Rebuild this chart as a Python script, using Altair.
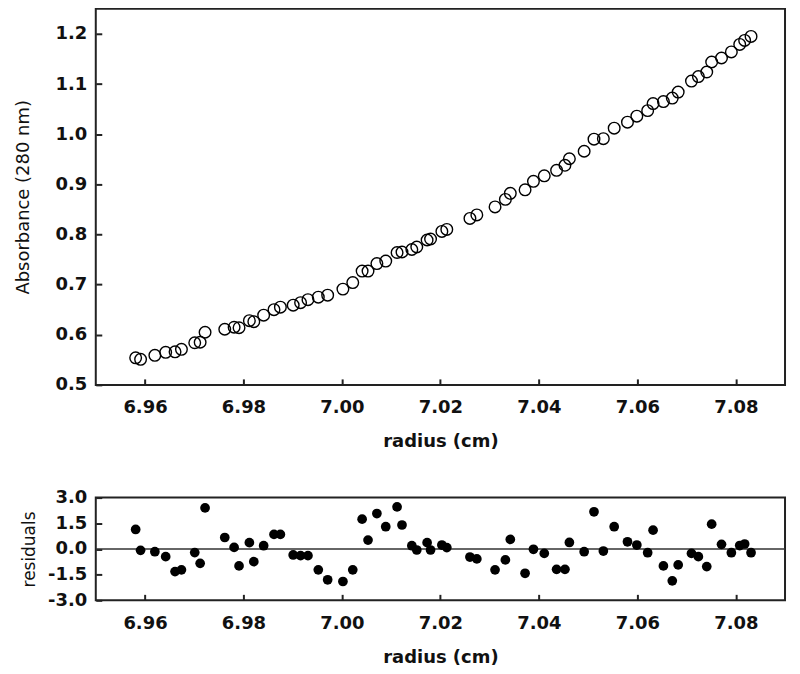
import altair as alt
import pandas as pd

# ---- data ----
radius = [6.9581, 6.9591, 6.9620, 6.9642, 6.9661, 6.9674, 6.9701, 6.9712, 6.9722, 6.9762,
          6.9781, 6.9791, 6.9812, 6.9821, 6.9841, 6.9862, 6.9875, 6.9901, 6.9916, 6.9931,
          6.9952, 6.9971, 7.0002, 7.0022, 7.0041, 7.0053, 7.0071, 7.0089, 7.0112, 7.0122,
          7.0142, 7.0152, 7.0173, 7.0180, 7.0203, 7.0213, 7.0260, 7.0274, 7.0311, 7.0332,
          7.0342, 7.0372, 7.0389, 7.0411, 7.0436, 7.0453, 7.0462, 7.0492, 7.0512, 7.0531,
          7.0553, 7.0580, 7.0599, 7.0621, 7.0632, 7.0653, 7.0671, 7.0683, 7.0710, 7.0724,
          7.0741, 7.0751, 7.0771, 7.0791, 7.0808, 7.0818, 7.0831]

absorbance = [0.554, 0.551, 0.559, 0.565, 0.566, 0.571, 0.584, 0.585, 0.605, 0.611,
              0.615, 0.614, 0.628, 0.626, 0.639, 0.650, 0.655, 0.659, 0.664, 0.670,
              0.675, 0.679, 0.691, 0.704, 0.727, 0.727, 0.742, 0.747, 0.764, 0.765,
              0.770, 0.775, 0.789, 0.791, 0.806, 0.810, 0.832, 0.839, 0.855, 0.870,
              0.882, 0.889, 0.906, 0.917, 0.928, 0.938, 0.951, 0.966, 0.990, 0.991,
              1.012, 1.024, 1.036, 1.047, 1.061, 1.065, 1.072, 1.084, 1.106, 1.115,
              1.124, 1.144, 1.152, 1.164, 1.179, 1.187, 1.195]

residuals = [1.14, -0.08, -0.16, -0.45, -1.32, -1.22, -0.21, -0.84, 2.40, 0.67,
             0.09, -0.99, 0.37, -0.74, 0.19, 0.85, 0.85, -0.35, -0.39, -0.39,
             -1.22, -1.80, -1.90, -1.22, 1.74, 0.52, 2.07, 1.30, 2.46, 1.40,
             0.19, -0.06, 0.37, -0.06, 0.23, 0.08, -0.47, -0.58, -1.22, -0.64,
             0.56, -1.42, -0.02, -0.26, -1.19, -1.19, 0.38, -0.16, 2.17, -0.12,
             1.30, 0.42, 0.23, -0.22, 1.10, -0.99, -1.86, -0.93, -0.26, -0.45,
             -1.03, 1.45, 0.27, -0.22, 0.20, 0.29, -0.22]

x_ticks = [6.96, 6.98, 7.00, 7.02, 7.04, 7.06, 7.08]
abs_ticks = [0.5, 0.6, 0.7, 0.8, 0.9, 1.0, 1.1, 1.2]
res_ticks = [-3.0, -1.5, 0.0, 1.5, 3.0]
x_domain = [6.95, 7.09]
abs_domain = [0.5, 1.25]
res_domain = [-3.0, 3.0]

df = pd.DataFrame({"radius": radius, "absorbance": absorbance, "residual": residuals})
zero = pd.DataFrame({"residual": [0.0]})

W = 691
H1 = 377
H2 = 103
TICK = 6

LABEL_FONT = "DejaVu Sans"
# inward ticks: the axis is moved inside the frame by -TICK and its ticks point back out to it
lab = dict(labelFont=LABEL_FONT, labelFontWeight="bold", labelFontSize=18, labelColor="#111",
           domain=False, ticks=True, tickSize=TICK, tickWidth=2, tickColor="#222",
           offset=-TICK, grid=False)
neg_fmt = "datum.value < 0 ? '-' + format(-datum.value, '.1f') : format(datum.value, '.1f')"

x_axis = alt.Axis(values=x_ticks, format=".2f", title="radius (cm)", labelPadding=14,
                  titleFont=LABEL_FONT, titleFontWeight="bold", titleFontSize=18,
                  titleColor="#111", titlePadding=16, **lab)

xs = alt.Scale(domain=x_domain, nice=False, zero=False)
ys1 = alt.Scale(domain=abs_domain, nice=False, zero=False)
ys2 = alt.Scale(domain=res_domain, nice=False, zero=False)

y_axis1 = alt.Axis(values=abs_ticks, format=".1f", title="Absorbance (280 nm)", labelPadding=9,
                   titleFont=LABEL_FONT, titleFontWeight="normal", titleFontSize=18,
                   titleColor="#111", titlePadding=23, **lab)
y_axis2 = alt.Axis(values=res_ticks, labelExpr=neg_fmt, title="residuals", labelPadding=9,
                   titleFont=LABEL_FONT, titleFontWeight="normal", titleFontSize=17,
                   titleColor="#111", titlePadding=9, **lab)

X = alt.X("radius:Q", scale=xs, axis=x_axis)

# ---- top panel ----
top = alt.Chart(df).mark_point(shape="circle", filled=False, size=135, stroke="#000",
                               strokeWidth=1.4, opacity=1).encode(
    x=X, y=alt.Y("absorbance:Q", scale=ys1, axis=y_axis1)
).properties(width=W, height=H1)

# ---- residual panel ----
zline = alt.Chart(zero).mark_rule(color="#333", strokeWidth=1.5).encode(
    y=alt.Y("residual:Q", scale=ys2, axis=y_axis2))
dots = alt.Chart(df).mark_circle(size=95, color="#000", opacity=1).encode(
    x=X, y=alt.Y("residual:Q", scale=ys2, axis=y_axis2))
bottom = alt.layer(zline, dots).properties(width=W, height=H2)

chart = alt.vconcat(top, bottom, spacing=36).properties(
    padding={"left": 5, "top": -1, "right": 5, "bottom": 5},
    background="white"
).configure_view(stroke="#222", strokeWidth=2)

chart.save("out.html", embed_options={"renderer": "svg", "actions": False})
